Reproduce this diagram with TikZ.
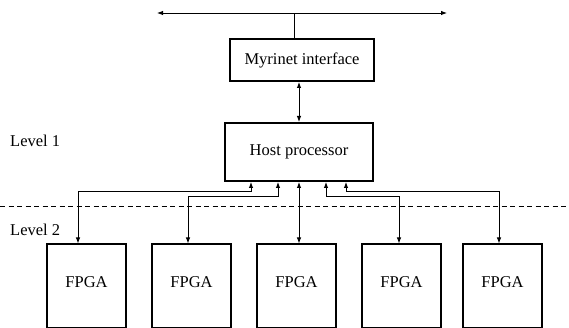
\documentclass[tikz,border=0pt]{standalone}
\usepackage{fontspec}
\setmainfont{Liberation Serif}
\usetikzlibrary{arrows.meta}
\begin{document}
\begin{tikzpicture}[x=1pt,y=-1pt,
  box/.style={draw,line width=2pt,inner sep=0pt,font=\fontsize{16.5}{18}\selectfont},
  lbl/.style={inner sep=0pt,anchor=west,font=\fontsize{16.5}{18}\selectfont},
  conn/.style={line width=0.9pt},
  dbl/.style={conn,{Latex[length=6pt,width=4.5pt]}-{Latex[length=6pt,width=4.5pt]}}]
\useasboundingbox (0,0) rectangle (569,328);
% boxes
\node[box,minimum width=144pt,minimum height=42pt] (my) at (302,60) {Myrinet interface};
\node[box,minimum width=148pt,minimum height=58pt] (host) at (299,152) {Host processor};
\foreach \i/\x in {1/86.5,2/191.5,3/296.5,4/401.5,5/502.5}{
  \node[box,minimum width=79pt,minimum height=83pt,text depth=7pt] (f\i) at (\x,286) {FPGA};
}
% labels
\node[lbl] (l1) at (10,141) {Level 1};
\node[lbl] (l2) at (10,230) {Level 2};
% network bus
\coordinate (busL) at (157,13);
\coordinate (busR) at (447,13);
\draw[dbl] (busL) -- (busR);
\draw[conn] (my.north -| 294,0) -- (busL -| 294,0);
% Myrinet <-> host
\draw[dbl] (my.south -| 299,0) -- (host.north -| 299,0);
% dashed level separator
\coordinate (dL) at (0,206);
\coordinate (dR) at (569,206);
\draw[line width=0.7pt,dash pattern=on 5pt off 3.5pt] (dL) -- (dR);
% host <-> FPGAs
\draw[dbl] (host.south -| 251,0) |- (78,191.7) -- (f1.north -| 78,0);
\draw[dbl] (host.south -| 278,0) |- (188,196.7) -- (f2.north -| 188,0);
\draw[dbl] (host.south -| 299,0) -- (f3.north -| 299,0);
\draw[dbl] (host.south -| 326,0) |- (399,196.7) -- (f4.north -| 399,0);
\draw[dbl] (host.south -| 346,0) |- (499,191.7) -- (f5.north -| 499,0);
\end{tikzpicture}
\end{document}
